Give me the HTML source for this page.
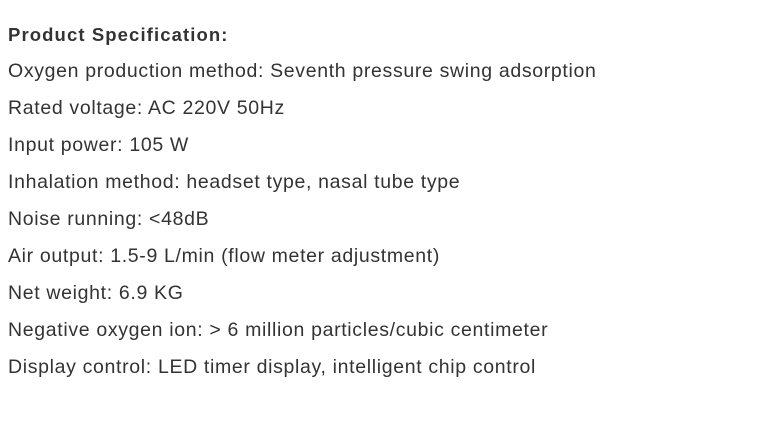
<!DOCTYPE html>
<html><head><meta charset="utf-8"><style>
body{margin:0;width:779px;height:439px;background:#fff;font-family:"Liberation Sans",Arial,sans-serif;color:#333;overflow:hidden}
.wrap{position:absolute;left:8px;top:16px}
p{margin:0;height:37px;line-height:37px;font-size:19.5px;letter-spacing:0.66px;white-space:nowrap}
p.h{font-weight:bold;font-size:18.5px;letter-spacing:1.1px}
</style></head><body>
<div class="wrap">
<p class="h">Product Specification:</p>
<p>Oxygen production method: Seventh pressure swing adsorption</p>
<p>Rated voltage: AC 220V 50Hz</p>
<p>Input power: 105 W</p>
<p>Inhalation method: headset type, nasal tube type</p>
<p>Noise running: &lt;48dB</p>
<p>Air output: 1.5-9 L/min (flow meter adjustment)</p>
<p>Net weight: 6.9 KG</p>
<p>Negative oxygen ion: &gt; 6 million particles/cubic centimeter</p>
<p>Display control: LED timer display, intelligent chip control</p>
</div>
</body></html>
